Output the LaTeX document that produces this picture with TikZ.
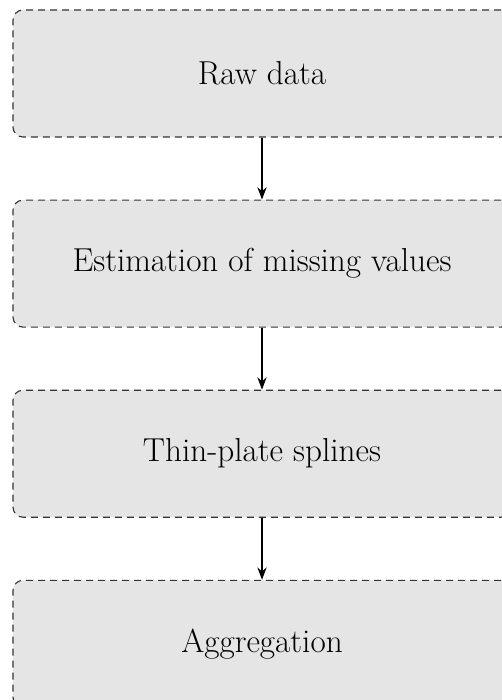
\documentclass[tikz,border=0pt]{standalone}
\usepackage{tikz}
\usetikzlibrary{
	arrows.meta,
	positioning
}

\begin{document}
\begin{tikzpicture}[
			font=\fontsize{16.6}{20}\selectfont,
			etapa/.style={draw=black!80, dash pattern=on 3.5pt off 2.5pt, line width=0.55pt, rounded corners=5pt, align=center, fill=black!10, minimum width=249pt, minimum height=63.5pt},
			>=Stealth,
			fl/.style={->, line width=0.7pt}
		]
		\useasboundingbox (0,0) rectangle (251pt,-350pt);

		\node[etapa] (raw) at (131pt,-36.75pt) {Raw data};
		\node[etapa, below=31pt of raw] (est) {Estimation of missing values};
		\node[etapa, below=31pt of est] (tps) {Thin-plate splines};
		\node[etapa, below=31pt of tps] (agg) {Aggregation};

		\draw[fl] (raw) -- (est);
		\draw[fl] (est) -- (tps);
		\draw[fl] (tps) -- (agg);
	\end{tikzpicture}
\end{document}
